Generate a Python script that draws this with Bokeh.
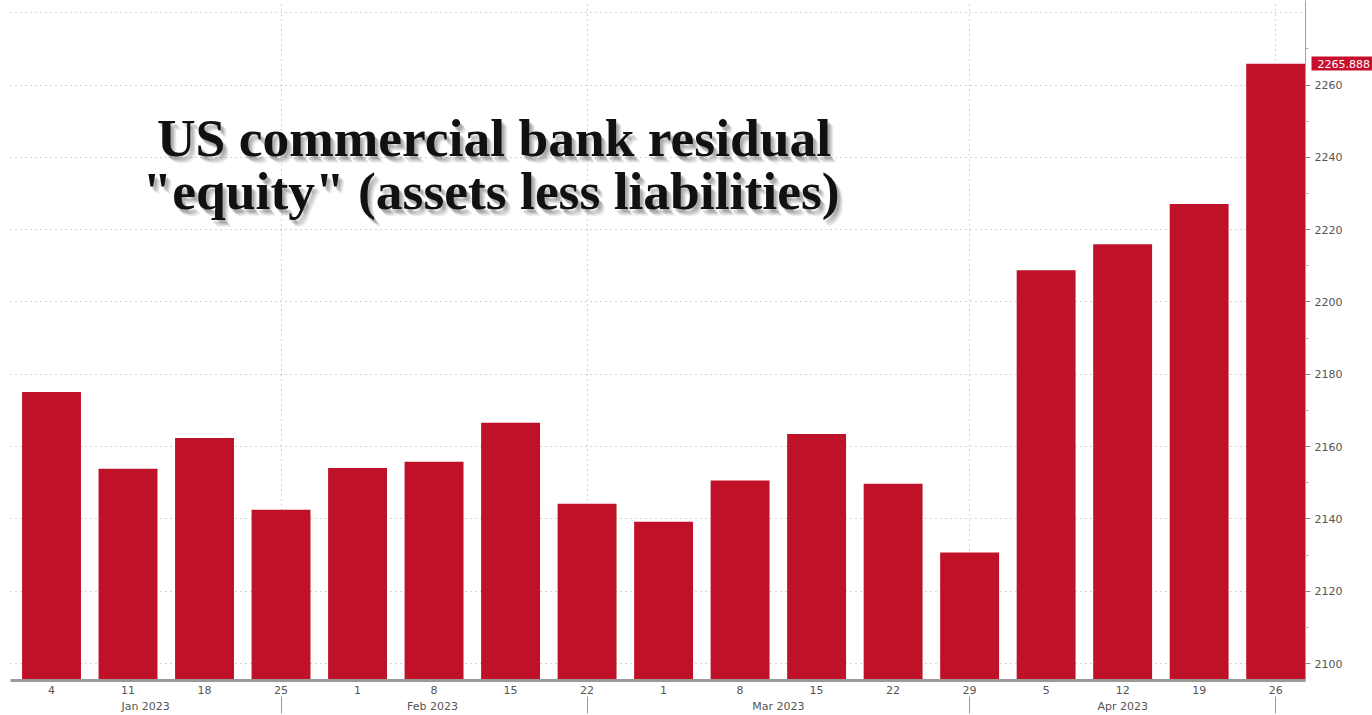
from bokeh.plotting import figure
from bokeh.models import Range1d, FixedTicker, LinearAxis
from bokeh.core.properties import value
from bokeh.embed import file_html
from bokeh.resources import INLINE

# ---- data ----
day_labels = ["4", "11", "18", "25", "1", "8", "15", "22", "1", "8", "15", "22",
              "29", "5", "12", "19", "26"]
values = [2175.1, 2153.9, 2162.4, 2142.5, 2154.1, 2155.8, 2166.6, 2144.2,
          2139.2, 2150.6, 2163.5, 2149.7, 2130.7, 2208.8, 2216.0, 2227.1, 2265.888]
month_labels = ["Jan 2023", "Feb 2023", "Mar 2023", "Apr 2023"]
month_label_pos = [1.23, 4.98, 9.5, 14.0]
month_end_idx = [3, 7, 12, 16]
y_ticks = [2100, 2120, 2140, 2160, 2180, 2200, 2220, 2240, 2260]
y_minor = [2110, 2130, 2150, 2170, 2190, 2210, 2230, 2250, 2270]
y_grid = y_ticks + [2280]
title_lines = ['US commercial bank residual', '"equity" (assets less liabilities)']
last_value_text = "2265.888"

BAR = "#bf1128"
TAG = "#c8102e"
Y0, Y1 = 2095.3, 2283.4
X0, X1 = -0.536, 16.39

p = figure(width=1372, height=715, x_range=Range1d(X0, X1), y_range=Range1d(Y0, Y1),
           y_axis_location="right", output_backend="svg", toolbar_location=None,
           min_border_left=10, min_border_right=67, min_border_top=0, min_border_bottom=34)
p.outline_line_color = None
p.background_fill_color = "white"
p.border_fill_color = "white"

xs = list(range(len(values)))
p.vbar(x=xs, top=values, bottom=Y0 - 50, width=0.77, fill_color=BAR, line_color=None)

# grids
p.xgrid.ticker = FixedTicker(ticks=month_end_idx)
p.ygrid.ticker = FixedTicker(ticks=y_grid)
for g in (p.xgrid[0], p.ygrid[0]):
    g.grid_line_color = "#a8a8a8"
    g.grid_line_dash = "1 4"
    g.grid_line_width = 1
p.xgrid.level = "underlay"
p.ygrid.level = "underlay"

LABEL_FONT = "DejaVu Sans"
LABEL_COLOR = "#555555"

# bottom axis (days)
xa = p.xaxis[0]
xa.ticker = FixedTicker(ticks=xs)
xa.major_label_overrides = {i: d for i, d in enumerate(day_labels)}
xa.major_tick_out = 0
xa.major_tick_in = 0
xa.minor_tick_line_color = None
xa.minor_tick_out = 0
xa.minor_tick_in = 0
xa.axis_line_color = "#9a9a9a"
xa.axis_line_width = 3
xa.major_label_text_font = LABEL_FONT
xa.major_label_text_font_size = "11px"
xa.major_label_text_color = LABEL_COLOR
xa.major_label_standoff = 5
xa.axis_label_standoff = 0

# month axis
ma = LinearAxis(ticker=FixedTicker(ticks=month_label_pos, minor_ticks=month_end_idx),
                major_label_overrides={pos: m for pos, m in zip(month_label_pos, month_labels)},
                axis_line_color=None, major_tick_line_color=None,
                major_tick_out=0, major_tick_in=0,
                minor_tick_out=0, minor_tick_in=-17, minor_tick_line_color="#999999",
                major_label_standoff=3, axis_label_standoff=0,
                major_label_text_font=LABEL_FONT, major_label_text_font_size="11px",
                major_label_text_color=LABEL_COLOR)
p.add_layout(ma, "below")

# right axis
ya = p.yaxis[0]
ya.ticker = FixedTicker(ticks=y_ticks, minor_ticks=y_minor)
ya.axis_line_color = "#a0a0a0"
ya.major_tick_out = 5
ya.major_tick_in = 0
ya.minor_tick_out = 3
ya.minor_tick_in = 0
ya.major_tick_line_color = "#888888"
ya.minor_tick_line_color = "#aaaaaa"
ya.major_label_text_font = LABEL_FONT
ya.major_label_text_font_size = "11px"
ya.major_label_text_color = LABEL_COLOR
ya.major_label_standoff = 4
ya.axis_label_standoff = 0

# last-value tag: a second right axis with one tick, its thick tick forms the red box
tag = LinearAxis(ticker=FixedTicker(ticks=[values[-1]]),
                 major_label_overrides={values[-1]: last_value_text},
                 axis_line_color=None, minor_tick_line_color=None,
                 major_tick_line_color=TAG, major_tick_line_width=14,
                 major_tick_out=30, major_tick_in=34,
                 major_label_standoff=-58, axis_label_standoff=0,
                 major_label_text_font=LABEL_FONT, major_label_text_font_size="11px",
                 major_label_text_color="white")
p.add_layout(tag, "right")

# title with soft shadow
tx = [5.784, 5.745]
ty = [2245.3, 2230.7]
for dx, dy, a in [(6, 7, 0.07), (5, 6, 0.10), (4, 5, 0.14), (3, 4, 0.16), (2, 3, 0.16)]:
    p.text(x=tx, y=ty, text=title_lines, x_offset=dx, y_offset=dy,
           text_font=value("Liberation Serif"), text_font_style="bold",
           text_font_size="53.5px", text_align="center", text_baseline="alphabetic",
           text_color="#555555", text_alpha=a)
p.text(x=tx, y=ty, text=title_lines,
       text_font=value("Liberation Serif"), text_font_style="bold",
       text_font_size="53.5px", text_align="center", text_baseline="alphabetic",
       text_color="#111111")

open("out.html", "w").write(file_html(p, INLINE))
